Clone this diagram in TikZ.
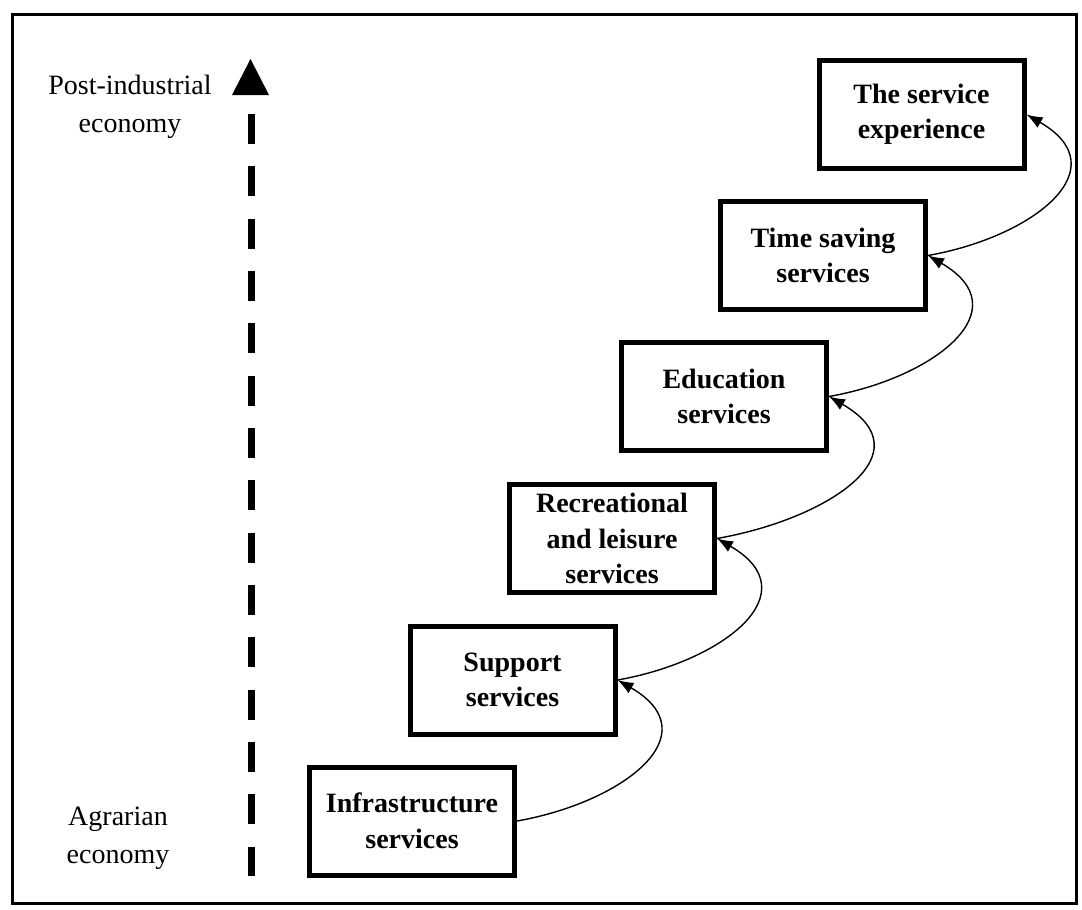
\documentclass[tikz,border=0pt]{standalone}
\usepackage{fontspec}
\setmainfont{Liberation Serif}
\usetikzlibrary{arrows.meta}

\begin{document}
\begin{tikzpicture}[x=1pt,y=1pt,
	stage/.style={draw, line width=5pt, minimum width=205pt, minimum height=108pt, inner sep=0pt, align=center, font=\fontsize{28}{35.5}\selectfont\bfseries},
	era/.style={align=center, font=\fontsize{28}{38}\selectfont},
	rise/.style={-{Latex[length=16pt,width=12pt]}, line width=1.4pt, out=10, in=-30, looseness=1.6}]
	\useasboundingbox (0,0) rectangle (1082,-910);
	\draw[line width=3pt] (12,-14) rectangle (1076,-903);

	\node[era] (post) at (130,-107) {Post-industrial\\economy};
	\node[era] (agr) at (118,-838) {Agrarian\\economy};
	\coordinate (axlow) at (251,-876);
	\coordinate (axtop) at (251,-114);
	\draw[line width=7pt, dash pattern=on 30pt off 22.33pt] (axtop) -- (axlow);
	\fill (232,-95) -- (269,-95) -- (250.5,-59) -- cycle;

	\node[stage] (infra) at (412,-821) {Infrastructure\\services};
	\node[stage] (support) at (512.5,-680) {Support\\services};
	\node[stage] (leisure) at (612,-538.5) {Recreational\\and leisure\\services};
	\node[stage] (edu) at (724,-396.5) {Education\\services};
	\node[stage] (time) at (823,-255.5) {Time saving\\services};
	\node[stage] (exp) at (921.5,-114.5) {The service\\experience};

	\draw[rise] (infra.east) to (support.east);
	\draw[rise] (support.east) to (leisure.east);
	\draw[rise] (leisure.east) to (edu.east);
	\draw[rise] (edu.east) to (time.east);
	\draw[rise] (time.east) to (exp.east);
\end{tikzpicture}
\end{document}
